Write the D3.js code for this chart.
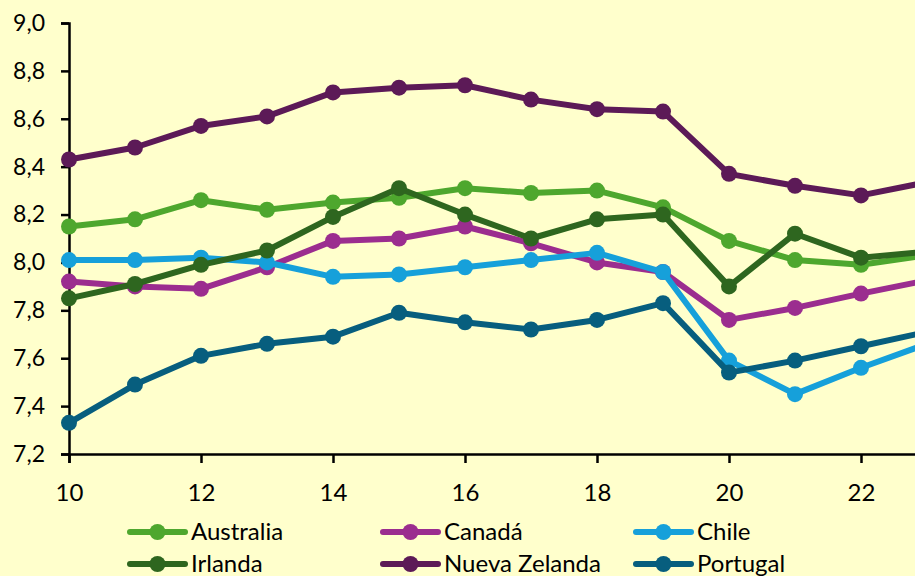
<!DOCTYPE html>
<html>
<head>
<meta charset="utf-8">
<script src="https://cdn.jsdelivr.net/npm/d3@7"></script>
<style>
  body { margin: 0; overflow: hidden; background: #ffffcc; }
  text { font-family: Lato, "Open Sans", sans-serif; }
</style>
</head>
<body>
<div id="chart"></div>
<script>
const years = [10, 11, 12, 13, 14, 15, 16, 17, 18, 19, 20, 21, 22, 23];

const australia = [8.15, 8.18, 8.26, 8.22, 8.25, 8.27, 8.31, 8.29, 8.30, 8.23, 8.09, 8.01, 7.99, 8.03];
const canada = [7.92, 7.90, 7.89, 7.98, 8.09, 8.10, 8.15, 8.08, 8.00, 7.96, 7.76, 7.81, 7.87, 7.925];
const chile = [8.01, 8.01, 8.02, 8.00, 7.94, 7.95, 7.98, 8.01, 8.04, 7.96, 7.59, 7.45, 7.56, 7.66];
const irlanda = [7.85, 7.91, 7.99, 8.05, 8.19, 8.31, 8.20, 8.10, 8.18, 8.20, 7.90, 8.12, 8.02, 8.045];
const nuevaZelanda = [8.43, 8.48, 8.57, 8.61, 8.71, 8.73, 8.74, 8.68, 8.64, 8.63, 8.37, 8.32, 8.28, 8.335];
const portugal = [7.33, 7.49, 7.61, 7.66, 7.69, 7.79, 7.75, 7.72, 7.76, 7.83, 7.54, 7.59, 7.65, 7.71];

const seriesNames = ["Australia", "Canadá", "Chile", "Irlanda", "Nueva Zelanda", "Portugal"];
const seriesValues = [australia, canada, chile, irlanda, nuevaZelanda, portugal];
const seriesColors = ["#4ea72e", "#9b2d8f", "#16a0da", "#2e661f", "#5c1a57", "#075e7e"];

const yTicks = [7.2, 7.4, 7.6, 7.8, 8.0, 8.2, 8.4, 8.6, 8.8, 9.0];
const xTicks = [10, 12, 14, 16, 18, 20, 22];

const width = 915;
const height = 576;

const xScale = d3.scaleLinear().domain([10, 23]).range([69, 927]);
const yScale = d3.scaleLinear().domain([7.2, 9.0]).range([454, 23]);

const svg = d3.select("#chart")
  .append("svg")
  .attr("width", width)
  .attr("height", height);

svg.append("rect")
  .attr("width", width)
  .attr("height", height)
  .attr("fill", "#ffffcc");

const fmt = d => d.toFixed(1).replace(".", ",");

const yAxis = d3.axisLeft(yScale).tickValues(yTicks).tickFormat(fmt).tickSize(8).tickPadding(16);
const xAxis = d3.axisBottom(xScale).tickValues(xTicks).tickFormat(d3.format("d")).tickSize(9).tickPadding(21);

const yAxisG = svg.append("g")
  .attr("transform", `translate(${xScale(10)},0)`)
  .call(yAxis);

const xAxisG = svg.append("g")
  .attr("transform", `translate(0,${yScale(7.2)})`)
  .call(xAxis);

[yAxisG, xAxisG].forEach(g => {
  g.select(".domain").attr("stroke", "#000").attr("stroke-width", 2.5);
  g.selectAll(".tick line").attr("stroke", "#000").attr("stroke-width", 2.5);
  g.selectAll(".tick text").attr("fill", "#000");
});
yAxisG.selectAll(".tick text").style("font-size", "23px");
xAxisG.selectAll(".tick text").style("font-size", "24px");

const line = d3.line()
  .x((d, i) => xScale(years[i]))
  .y(d => yScale(d));

const plotG = svg.append("g");

seriesValues.forEach((vals, s) => {
  plotG.append("path")
    .datum(vals)
    .attr("d", line)
    .attr("fill", "none")
    .attr("stroke", seriesColors[s])
    .attr("stroke-width", 6)
    .attr("stroke-linejoin", "round");

  plotG.selectAll(null)
    .data(vals)
    .enter()
    .append("circle")
    .attr("cx", (d, i) => xScale(years[i]))
    .attr("cy", d => yScale(d))
    .attr("r", 8)
    .attr("fill", seriesColors[s]);
});

// legend
const legendCols = [130, 383, 636];
const legendRows = [532, 564];

const legendG = svg.append("g");
seriesNames.forEach((name, s) => {
  const lx = legendCols[s % 3];
  const ly = legendRows[Math.floor(s / 3)];
  const item = legendG.append("g").attr("transform", `translate(${lx},${ly})`);
  item.append("line")
    .attr("x1", 0).attr("x2", 55)
    .attr("stroke", seriesColors[s])
    .attr("stroke-width", 6)
    .attr("stroke-linecap", "round");
  item.append("circle")
    .attr("cx", 27.5)
    .attr("r", 8)
    .attr("fill", seriesColors[s]);
  item.append("text")
    .attr("x", 61)
    .attr("dy", "0.35em")
    .style("font-size", "24px")
    .attr("fill", "#000")
    .text(name);
});
</script>
</body>
</html>
